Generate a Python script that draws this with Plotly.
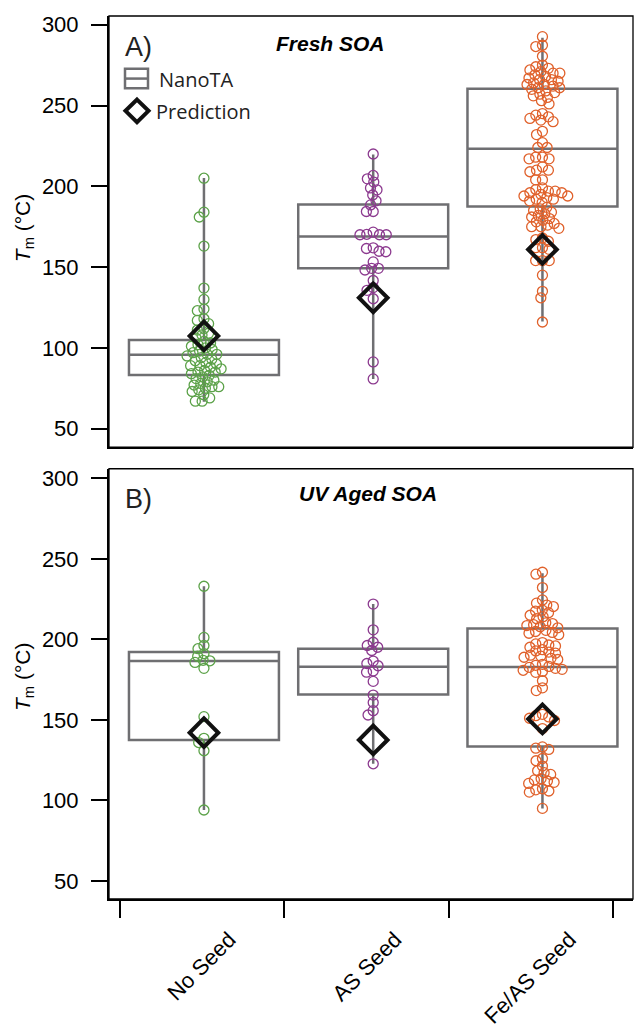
import math
import plotly.graph_objects as go

# ---------------- data ----------------
categories = ["No Seed", "AS Seed", "Fe/AS Seed"]

fresh_q1 = [83.2, 149.2, 187.5]
fresh_median = [95.7, 168.9, 223.2]
fresh_q3 = [104.8, 188.7, 260.3]
fresh_min = [66.7, 80.8, 116.3]
fresh_max = [205.2, 219.7, 292.0]
fresh_pred = [107.4, 131.0, 160.9]

aged_q1 = [137.5, 165.8, 133.4]
aged_median = [186.5, 183.0, 182.8]
aged_q3 = [192.1, 194.2, 206.7]
aged_min = [94.0, 122.7, 95.0]
aged_max = [233.0, 221.9, 241.1]
aged_pred = [142.0, 137.5, 150.6]

fresh_noseed = [205, 184, 181, 163, 137, 130, 124, 123, 118, 117, 115, 112, 111, 109,
                108, 106, 104, 103, 102, 101, 100, 99, 98, 97, 96, 96, 95, 94, 93, 92,
                91, 90, 89, 89, 88, 87, 86, 85, 85, 84, 83, 82, 81, 80, 79, 78, 77, 76,
                76, 75, 74, 73, 71, 69, 67, 67]
fresh_as = [220, 206.7, 204.6, 202.6, 199, 197.8, 194.6, 191, 188.5, 184.4, 184.4,
            171.6, 170.3, 170, 170, 170, 161.9, 161.5, 159.8, 159.5, 153.2, 149.2,
            149.2, 148.2, 141.7, 137.3, 135.6, 130.4, 91.3, 80.8]
fresh_feas = [292.6, 287.3, 286.5, 280.5,
              275, 274, 273, 272, 271, 270, 270, 269, 268, 267, 266, 266, 265, 264,
              263, 263, 262, 261, 261, 260, 259, 258, 257, 256, 255, 253, 251,
              245, 244, 243, 242, 241, 240, 234, 232, 227, 224, 224, 218, 218, 217,
              217, 212, 210, 210, 209, 204, 204,
              199, 198, 197, 197, 196, 196, 195, 194, 194, 193, 192, 192, 191, 190,
              187, 186, 185, 184, 183, 182, 181, 180, 179, 178, 177, 176, 175, 175,
              174, 168, 167, 166, 162, 162, 161, 154, 154, 154, 145, 135, 131, 116]

aged_noseed = [233, 201.2, 196.2, 194.2, 191.1, 189.5, 187, 186.7, 185.7, 182,
               152, 138.5, 135.9, 130.8, 94]
aged_as = [221.9, 205.9, 198.2, 196.2, 195.1, 193.1, 186.5, 185, 183.6, 180.4, 179.6,
           173.9, 165.4, 160.8, 155.7, 153, 122.7]
aged_feas = [241.7, 240.5, 232.2, 224.5, 222.5, 221.3, 220.4, 218.2, 217.5, 216.6,
             215.0, 214.1, 212.8, 210.3, 209.8, 209.1, 208.6, 207.9, 207.2, 205.6,
             204.9, 204.3, 203.8, 202.9, 198.0, 197.2, 196.5, 195.9, 195.1, 193.6,
             192.8, 192.1, 191.4, 190.2, 189.6, 188.9, 188.2, 187.5, 184.5, 183.9,
             183.2, 182.6, 182.0, 181.4, 180.8, 180.1, 179.5, 174.3, 169.9, 168.2,
             153.4, 152.6, 151.8, 151.0, 149.6, 144.6, 133.2, 132.4, 131.6, 126.0,
             124.6, 121.3, 118.4, 117.2, 116.1, 113.5, 112.7, 112.0, 111.2, 110.5,
             107.2, 106.5, 105.8, 105.1, 95]

# ---------------- styling ----------------
W, H = 635, 1031
ML, MR, MT, MB = 109, 2, 16, 112
PW = W - ML - MR
PH = H - MT - MB
XRANGE = [-0.561, 2.535]
YA_RANGE = [38.5, 305.4]
YB_RANGE = [38.7, 306.0]
A_TOP, A_BOT = 16, 457
B_TOP, B_BOT = 479, 919

GREEN = "#5ca249"
PURPLE = "#8c3a8f"
ORANGE = "#e0612b"
GRAY = "#6f6f72"
colors = [GREEN, PURPLE, ORANGE]

xpx = PW / (XRANGE[1] - XRANGE[0])
ya_px = (A_BOT - A_TOP) / (YA_RANGE[1] - YA_RANGE[0])
yb_px = (B_BOT - B_TOP) / (YB_RANGE[1] - YB_RANGE[0])


def swarm(vals, ypp, d=6.8):
    """deterministic beeswarm offsets (in x data units)"""
    order = sorted(range(len(vals)), key=lambda i: -vals[i])
    placed = []
    offs = [0.0] * len(vals)
    for i in order:
        y = vals[i] * ypp
        forb = []
        for (px_, py_) in placed:
            dy = abs(py_ - y)
            if dy < d:
                w = math.sqrt(d * d - dy * dy)
                forb.append((px_ - w, px_ + w))
        cands = [0.0] + [a for a, b in forb] + [b for a, b in forb]
        cands.sort(key=lambda c: (abs(c), c))
        best = 0.0
        for c in cands:
            if all(not (a + 1e-6 < c < b - 1e-6) for a, b in forb):
                best = c
                break
        placed.append((best, y))
        offs[i] = best / xpx
    return offs


def pxx(px):
    return (px - ML) / PW


def pxy(py):
    return (MT + PH - py) / PH


fig = go.Figure()

panels = [
    ("x", "y", fresh_q1, fresh_median, fresh_q3, fresh_min, fresh_max, fresh_pred,
     [fresh_noseed, fresh_as, fresh_feas], ya_px),
    ("x2", "y2", aged_q1, aged_median, aged_q3, aged_min, aged_max, aged_pred,
     [aged_noseed, aged_as, aged_feas], yb_px),
]

for xa, ya, q1, med, q3, lo, hi, pred, groups, ypp in panels:
    fig.add_trace(go.Box(
        x=[0, 1, 2], q1=q1, median=med, q3=q3, lowerfence=lo, upperfence=hi,
        xaxis=xa, yaxis=ya, width=0.886, whiskerwidth=0,
        line=dict(color=GRAY, width=2.5), fillcolor="rgba(0,0,0,0)",
        boxpoints=False, showlegend=False, hoverinfo="skip"))
    for gi, vals in enumerate(groups):
        offs = swarm(vals, ypp)
        fig.add_trace(go.Scatter(
            x=[gi + o for o in offs], y=vals, mode="markers", xaxis=xa, yaxis=ya,
            marker=dict(symbol="circle-open", size=10, color=colors[gi],
                        line=dict(width=1.3, color=colors[gi])),
            showlegend=False, hoverinfo="skip"))
    fig.add_trace(go.Scatter(
        x=[0, 1, 2], y=pred, mode="markers", xaxis=xa, yaxis=ya,
        marker=dict(symbol="diamond-open", size=22, color="#111111",
                    line=dict(width=4, color="#111111")),
        showlegend=False, hoverinfo="skip"))

tickfont = dict(family="Liberation Sans, Arial, sans-serif", size=22, color="black")

yax_common = dict(showline=True, linecolor="black", linewidth=2, ticks="outside",
                  ticklen=16, tickwidth=2, tickcolor="black", ticklabelstandoff=8,
                  tickvals=[50, 100, 150, 200, 250, 300], tickfont=tickfont,
                  showgrid=False, zeroline=False, fixedrange=True)

fig.update_layout(
    width=W, height=H, margin=dict(l=ML, r=MR, t=MT, b=MB),
    plot_bgcolor="white", paper_bgcolor="white", showlegend=False,
    xaxis=dict(domain=[0, 1], range=XRANGE, anchor="y", showline=True,
               linecolor="black", linewidth=2, showticklabels=False, ticks="",
               showgrid=False, zeroline=False),
    yaxis=dict(domain=[(B_BOT - A_BOT) / PH, 1], range=YA_RANGE, anchor="x", **yax_common),
    xaxis2=dict(domain=[0, 1], range=XRANGE, anchor="y2", showline=True,
                linecolor="black", linewidth=2,
                tickvals=[0.15, 1.13, 2.16], ticktext=categories, tickangle=-45,
                ticks="outside", ticklen=17, tickwidth=2, tickcolor="rgba(0,0,0,0)",
                tickfont=tickfont,
                minor=dict(tickmode="array", tickvals=[-0.496, 0.473, 1.448, 2.417],
                           ticks="outside", ticklen=17, tickwidth=2, tickcolor="black",
                           showgrid=False),
                showgrid=False, zeroline=False),
    yaxis2=dict(domain=[0, (B_BOT - B_TOP) / PH], range=YB_RANGE, anchor="x2", **yax_common),
)

# thin frames
for xr, yr in [("x domain", "y domain"), ("x2 domain", "y2 domain")]:
    fig.add_shape(type="rect", xref=xr, yref=yr, x0=0, x1=1, y0=0, y1=1,
                  line=dict(color="black", width=1.3), layer="above")

# manual legend in panel A
bx0, bx1 = pxx(125), pxx(148)
fig.add_shape(type="rect", xref="paper", yref="paper", x0=bx0, x1=bx1,
              y0=pxy(90), y1=pxy(70), line=dict(color=GRAY, width=2.5))
fig.add_shape(type="line", xref="paper", yref="paper", x0=bx0, x1=bx1,
              y0=pxy(80), y1=pxy(80), line=dict(color=GRAY, width=2.5))
cx, cy, r = 137, 113, 11.5
dpath = "M {} {} L {} {} L {} {} L {} {} Z".format(
    pxx(cx), pxy(cy - r), pxx(cx + r), pxy(cy), pxx(cx), pxy(cy + r), pxx(cx - r), pxy(cy))
fig.add_shape(type="path", xref="paper", yref="paper", path=dpath,
              line=dict(color="#111111", width=4))

legfont = dict(family="Open Sans, sans-serif", size=20, color="#222222")
fig.add_annotation(xref="paper", yref="paper", x=pxx(157), y=pxy(81),
                   text="NanoTA", showarrow=False, xanchor="left", yanchor="middle", font=legfont)
fig.add_annotation(xref="paper", yref="paper", x=pxx(154), y=pxy(114),
                   text="Prediction", showarrow=False, xanchor="left", yanchor="middle", font=legfont)

# panel labels and titles
labfont = dict(family="Liberation Sans, Arial, sans-serif", size=27, color="#222222")
fig.add_annotation(xref="paper", yref="paper", x=pxx(123), y=pxy(48),
                   text="A)", showarrow=False, xanchor="left", yanchor="middle", font=labfont)
fig.add_annotation(xref="paper", yref="paper", x=pxx(123), y=pxy(510),
                   text="B)", showarrow=False, xanchor="left", yanchor="middle", font=labfont)
titfont = dict(family="Liberation Sans, Arial, sans-serif", size=21, color="black")
fig.add_annotation(xref="paper", yref="paper", x=pxx(330), y=pxy(44),
                   text="<b><i>Fresh SOA</i></b>", showarrow=False,
                   xanchor="center", yanchor="middle", font=titfont)
fig.add_annotation(xref="paper", yref="paper", x=pxx(368), y=pxy(504),
                   text="<b><i>UV Aged SOA</i></b>", showarrow=False,
                   xanchor="center", yanchor="middle", font=titfont)

ytfont = dict(family="Liberation Sans, Arial, sans-serif", size=21, color="black")
for cyp in [233, 692]:
    fig.add_annotation(xref="paper", yref="paper", x=pxx(24), y=pxy(cyp),
                       text="<i>T</i><sub>m</sub> (°C)", textangle=-90, showarrow=False,
                       xanchor="center", yanchor="middle", font=ytfont)

fig.write_html("out.html",
               config={"displayModeBar": False, "staticPlot": True},
               post_script="document.body.style.margin='0';"
                           "document.body.style.overflow='hidden';")
